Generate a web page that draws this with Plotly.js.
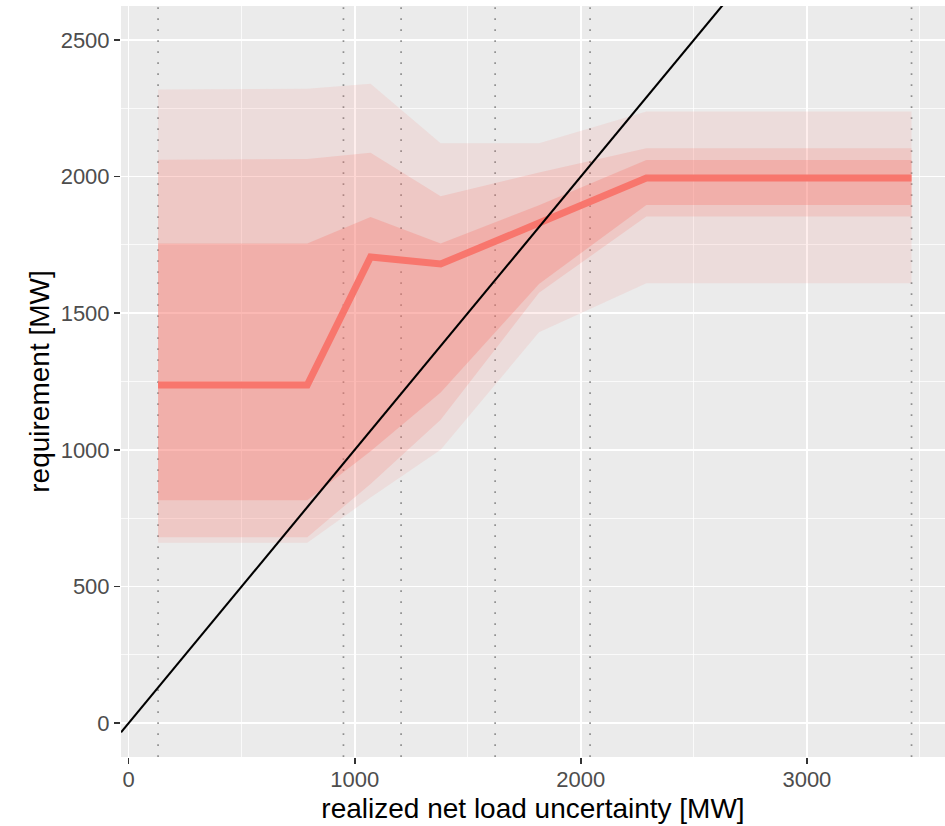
<!DOCTYPE html>
<html><head><meta charset="utf-8">
<script src="https://cdn.plot.ly/plotly-3.0.1.min.js"></script>
<style>html,body{margin:0;padding:0;background:#fff}</style>
</head><body><div id="chart" style="width:945px;height:826px"></div>
<script>
// ---- data ----
const xPts    = [130, 790, 1070, 1380, 1815, 2290, 3463];
const median  = [1237, 1237, 1706, 1680, 1830, 1995, 1995];
const outerHi = [2319, 2322, 2340, 2122, 2122, 2238, 2238];
const outerLo = [660, 660, 825, 1000, 1430, 1610, 1610];
const midHi   = [2062, 2064, 2087, 1928, 2015, 2104, 2104];
const midLo   = [680, 680, 875, 1110, 1575, 1854, 1854];
const innerHi = [1755, 1755, 1852, 1755, 1895, 2061, 2061];
const innerLo = [815, 815, 995, 1210, 1607, 1896, 1896];
const cutX    = [130, 950, 1205, 1621, 2041, 3463];
const ablineIntercept = 0;
const ablineSlope = 1;
const xTickVals = [0, 1000, 2000, 3000];
const yTickVals = [0, 500, 1000, 1500, 2000, 2500];
const xTitle = 'realized net load uncertainty [MW]';
const yTitle = 'requirement [MW]';

const xRange = [-34, 3611];
const yRange = [-124.5, 2624.5];
const RED = '248,118,109';

function ribbon(hi, lo, alpha) {
  return {
    type: 'scatter', mode: 'lines',
    x: xPts.concat(xPts.slice().reverse()),
    y: hi.concat(lo.slice().reverse()),
    fill: 'toself', fillcolor: 'rgba(' + RED + ',' + alpha + ')',
    line: {width: 0, color: 'rgba(0,0,0,0)'},
    hoverinfo: 'skip', showlegend: false
  };
}

const traces = [];
// dotted vertical lines
cutX.forEach(function (cx) {
  traces.push({
    type: 'scatter', mode: 'lines',
    x: [cx, cx], y: [yRange[0], yRange[1]],
    line: {color: 'rgba(120,120,120,0.8)', width: 1.7, dash: '1.7px,9.3px'},
    hoverinfo: 'skip', showlegend: false
  });
});
traces.push(ribbon(outerHi, outerLo, 0.12));
traces.push(ribbon(midHi, midLo, 0.20));
traces.push(ribbon(innerHi, innerLo, 0.30));
traces.push({
  type: 'scatter', mode: 'lines', x: xPts, y: median,
  line: {color: 'rgb(' + RED + ')', width: 7},
  hoverinfo: 'skip', showlegend: false
});
// abline y = intercept + slope * x, spanning the axis range
const abX = [xRange[0], xRange[1]];
traces.push({
  type: 'scatter', mode: 'lines',
  x: abX, y: abX.map(function (v) { return ablineIntercept + ablineSlope * v; }),
  line: {color: 'black', width: 2.1},
  hoverinfo: 'skip', showlegend: false
});

const tickFont = {family: 'Liberation Sans, Arial, sans-serif', size: 22, color: '#4D4D4D'};
const titleFont = {family: 'Liberation Sans, Arial, sans-serif', size: 28, color: '#000000'};

const layout = {
  width: 945, height: 826,
  margin: {l: 121, r: 0, t: 6, b: 69, pad: 0},
  paper_bgcolor: '#ffffff', plot_bgcolor: '#EBEBEB',
  showlegend: false,
  xaxis: {
    range: xRange, tickmode: 'array', tickvals: xTickVals,
    ticks: 'outside', ticklen: 6, tickwidth: 1.5, tickcolor: '#333333',
    tickfont: tickFont, ticklabelstandoff: -3,
    showgrid: true, gridcolor: '#FFFFFF', gridwidth: 1.5,
    zeroline: false, showline: false,
    minor: {tickmode: 'array', tickvals: [500, 1500, 2500, 3500], showgrid: true, gridcolor: '#FFFFFF', gridwidth: 0.75, ticks: ''},
    title: {text: xTitle, font: titleFont, standoff: 6}
  },
  yaxis: {
    range: yRange, tickmode: 'array', tickvals: yTickVals,
    ticks: 'outside', ticklen: 6, tickwidth: 1.5, tickcolor: '#333333',
    tickfont: tickFont, showgrid: true, gridcolor: '#FFFFFF', gridwidth: 1.5,
    zeroline: false, showline: false,
    minor: {tickmode: 'array', tickvals: [250, 750, 1250, 1750, 2250], showgrid: true, gridcolor: '#FFFFFF', gridwidth: 0.75, ticks: ''},
    title: {text: yTitle, font: titleFont, standoff: 2}
  }
};

Plotly.newPlot('chart', traces, layout, {staticPlot: true, displayModeBar: false});
</script>
</body></html>
